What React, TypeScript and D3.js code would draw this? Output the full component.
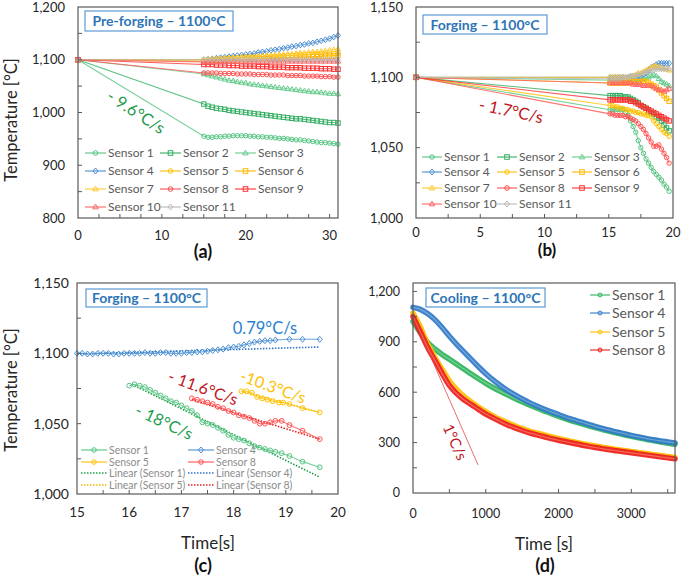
import React from 'react';
import * as d3 from 'd3';

const FONT = 'Lato, "Open Sans", sans-serif';

// ---------- Panel (a): Pre-forging ----------
const A_TIME = [0, 15, 15.5, 16, 16.5, 17, 17.5, 18, 18.5, 19, 19.5, 20, 20.5, 21, 21.5, 22, 22.5, 23, 23.5, 24, 24.5, 25, 25.5, 26, 26.5, 27, 27.5, 28, 28.5, 29, 29.5, 30, 30.5, 31];
const A_S1 = [1100, 955, 953, 953, 954, 954, 955, 955, 956, 956, 956, 956, 955, 955, 954, 954, 953, 953, 952, 951, 951, 950, 949, 948, 948, 947, 946, 945, 944, 943, 943, 942, 941, 940];
const A_S2 = [1100, 1016, 1012, 1010, 1008, 1007, 1006, 1004, 1003, 1002, 1001, 1000, 999, 998, 997, 996, 995, 994, 993, 992, 991, 990, 989, 988, 988, 987, 986, 985, 984, 983, 982, 981, 981, 980];
const A_S3 = [1100, 1073, 1071, 1069, 1067, 1065, 1063, 1061, 1060, 1058, 1057, 1056, 1054, 1053, 1052, 1051, 1050, 1049, 1048, 1047, 1046, 1045, 1044, 1043, 1042, 1041, 1040, 1039, 1039, 1038, 1037, 1036, 1036, 1035];
const A_S4 = [1100, 1100, 1101, 1102, 1103, 1104, 1105, 1106, 1107, 1108, 1109, 1110, 1111, 1112, 1114, 1115, 1116, 1118, 1119, 1120, 1122, 1123, 1125, 1126, 1128, 1129, 1131, 1132, 1134, 1136, 1138, 1140, 1143, 1146];
const A_S5 = [1100, 1100, 1100, 1101, 1101, 1102, 1102, 1103, 1103, 1104, 1104, 1105, 1105, 1105, 1106, 1106, 1106, 1107, 1107, 1107, 1108, 1108, 1108, 1109, 1109, 1109, 1110, 1110, 1110, 1111, 1111, 1111, 1112, 1112];
const A_S6 = [1100, 1097, 1097, 1098, 1098, 1098, 1099, 1099, 1099, 1100, 1100, 1100, 1101, 1101, 1101, 1102, 1102, 1102, 1103, 1103, 1103, 1104, 1104, 1104, 1105, 1105, 1105, 1106, 1106, 1106, 1107, 1107, 1107, 1108];
const A_S7 = [1100, 1100, 1101, 1101, 1102, 1102, 1103, 1103, 1104, 1104, 1105, 1105, 1106, 1106, 1107, 1107, 1108, 1108, 1109, 1110, 1110, 1111, 1111, 1112, 1113, 1113, 1114, 1115, 1115, 1116, 1117, 1118, 1119, 1120];
const A_S8 = [1100, 1075, 1075, 1075, 1075, 1074, 1074, 1074, 1074, 1073, 1073, 1073, 1073, 1072, 1072, 1072, 1072, 1071, 1071, 1071, 1071, 1070, 1070, 1070, 1070, 1069, 1069, 1069, 1069, 1068, 1068, 1068, 1067, 1067];
const A_S9 = [1100, 1091, 1091, 1091, 1090, 1090, 1090, 1089, 1089, 1089, 1088, 1088, 1088, 1088, 1087, 1087, 1087, 1086, 1086, 1086, 1086, 1085, 1085, 1085, 1085, 1084, 1084, 1084, 1084, 1083, 1083, 1083, 1082, 1082];
const A_S10 = [1100, 1096, 1096, 1096, 1096, 1096, 1096, 1096, 1096, 1096, 1096, 1096, 1096, 1096, 1096, 1096, 1096, 1097, 1097, 1097, 1097, 1097, 1097, 1097, 1097, 1097, 1097, 1097, 1097, 1097, 1097, 1097, 1097, 1097];
const A_S11 = [1100, 1100, 1100, 1100, 1100, 1100, 1100, 1100, 1100, 1100, 1100, 1100, 1100, 1100, 1100, 1100, 1100, 1100, 1100, 1100, 1100, 1100, 1100, 1100, 1100, 1100, 1100, 1100, 1100, 1100, 1100, 1100, 1100, 1100];
const A_SERIES = [A_S1, A_S2, A_S3, A_S4, A_S5, A_S6, A_S7, A_S8, A_S9, A_S10, A_S11];
const A_XTICKS = [0, 10, 20, 30];
const A_YTICKS = [800, 900, 1000, 1100, 1200];

// ---------- Panel (b): Forging ----------
const B_TIME = [0, 15.1, 15.3, 15.5, 15.7, 15.9, 16.1, 16.3, 16.5, 16.7, 16.9, 17.1, 17.3, 17.5, 17.7, 17.9, 18.1, 18.3, 18.5, 18.7, 18.9, 19.1, 19.3, 19.5, 19.7];
const B_S1 = [1100, 1077, 1077, 1077, 1077, 1077, 1077, 1075, 1073, 1069, 1065, 1061, 1055, 1050, 1046, 1042, 1039, 1036, 1033, 1031, 1029, 1027, 1024, 1022, 1019];
const B_S2 = [1100, 1087, 1087, 1087, 1087, 1087, 1086, 1086, 1086, 1085, 1084, 1083, 1082, 1080, 1079, 1078, 1076, 1075, 1074, 1072, 1071, 1069, 1066, 1064, 1062];
const B_S3 = [1100, 1098, 1098, 1098, 1098, 1098, 1098, 1098, 1098, 1098, 1098, 1098, 1098, 1099, 1099, 1100, 1100, 1101, 1102, 1101, 1099, 1097, 1096, 1095, 1094];
const B_S4 = [1100, 1100, 1100, 1100, 1100, 1100, 1100, 1100, 1100, 1100, 1100, 1100, 1101, 1101, 1102, 1103, 1105, 1107, 1108, 1109, 1110, 1110, 1110, 1110, 1110];
const B_S5 = [1100, 1080, 1080, 1079, 1079, 1078, 1078, 1077, 1077, 1076, 1076, 1075, 1075, 1074, 1074, 1073, 1073, 1072, 1069, 1067, 1065, 1063, 1061, 1060, 1058];
const B_S6 = [1100, 1096, 1096, 1096, 1096, 1096, 1096, 1096, 1096, 1097, 1097, 1097, 1097, 1097, 1097, 1097, 1096, 1095, 1094, 1093, 1091, 1089, 1087, 1085, 1083];
const B_S7 = [1100, 1100, 1100, 1100, 1100, 1100, 1100, 1100, 1100, 1101, 1101, 1102, 1103, 1103, 1104, 1105, 1106, 1107, 1108, 1108, 1107, 1107, 1106, 1106, 1105];
const B_S8 = [1100, 1074, 1074, 1073, 1073, 1073, 1073, 1072, 1072, 1071, 1070, 1069, 1067, 1065, 1063, 1060, 1057, 1054, 1051, 1051, 1052, 1049, 1046, 1043, 1039];
const B_S9 = [1100, 1084, 1084, 1084, 1084, 1084, 1084, 1084, 1084, 1083, 1083, 1082, 1081, 1080, 1079, 1078, 1077, 1076, 1075, 1074, 1073, 1072, 1071, 1070, 1069];
const B_S10 = [1100, 1096, 1096, 1096, 1096, 1096, 1096, 1096, 1096, 1096, 1095, 1095, 1095, 1095, 1094, 1094, 1094, 1094, 1093, 1092, 1091, 1091, 1090, 1091, 1092];
const B_S11 = [1100, 1099, 1099, 1099, 1099, 1099, 1100, 1100, 1100, 1101, 1101, 1101, 1102, 1102, 1103, 1104, 1104, 1105, 1105, 1106, 1106, 1106, 1106, 1106, 1106];
const B_SERIES = [B_S1, B_S2, B_S3, B_S4, B_S5, B_S6, B_S7, B_S8, B_S9, B_S10, B_S11];
const B_XTICKS = [0, 5, 10, 15, 20];
const B_YTICKS = [1000, 1050, 1100, 1150];

// ---------- Panel (c): Forging zoom ----------
const C_T4 = [15.0, 15.1, 15.2, 15.3, 15.4, 15.5, 15.6, 15.7, 15.8, 15.9, 16.0, 16.1, 16.2, 16.3, 16.4, 16.5, 16.6, 16.7, 16.8, 16.9, 17.0, 17.1, 17.2, 17.3, 17.4, 17.5, 17.6, 17.7, 17.8, 17.9, 18.0, 18.1, 18.2, 18.3, 18.4, 18.5, 18.6, 18.7, 18.8, 19.07, 19.32, 19.65];
const C_S4 = [1100, 1100, 1099.5, 1099.5, 1100, 1100, 1100, 1099.5, 1099.5, 1100, 1100, 1100, 1100, 1100.5, 1100, 1100, 1100.5, 1100.5, 1100, 1100, 1100, 1100.5, 1100.5, 1101, 1101, 1101.5, 1102, 1102.5, 1103, 1104, 1104.5, 1105, 1106, 1107, 1108, 1108.5, 1109, 1109, 1109.5, 1110, 1110, 1110];
const C_T1 = [16.0, 16.1, 16.2, 16.3, 16.4, 16.5, 16.6, 16.7, 16.8, 16.9, 17.0, 17.1, 17.2, 17.3, 17.4, 17.5, 17.6, 17.7, 17.8, 17.9, 18.0, 18.1, 18.2, 18.3, 18.4, 18.5, 18.6, 18.7, 18.8, 18.92, 19.07, 19.32, 19.65];
const C_S1 = [1077, 1078, 1077, 1076, 1074, 1072, 1070, 1068, 1066, 1065, 1063, 1061, 1059, 1056, 1051, 1050, 1049, 1047, 1045, 1042, 1040, 1039, 1038, 1036, 1034, 1033, 1032, 1031, 1030, 1029, 1027, 1023, 1019];
const C_T8 = [17.2, 17.3, 17.4, 17.5, 17.6, 17.7, 17.8, 17.9, 18.0, 18.1, 18.2, 18.3, 18.4, 18.5, 18.6, 18.7, 18.8, 18.92, 19.07, 19.32, 19.65];
const C_S8 = [1068, 1067, 1066, 1065, 1064, 1062, 1061, 1059, 1058, 1056, 1055, 1054, 1052, 1050, 1050, 1051, 1052, 1052, 1049, 1045, 1039];
const C_T5 = [18.15, 18.25, 18.35, 18.45, 18.55, 18.65, 18.75, 18.87, 18.95, 19.07, 19.32, 19.65];
const C_S5 = [1073, 1073, 1072, 1069, 1068, 1067, 1066, 1065, 1065, 1064, 1061, 1058];
// trendline end points (time, temperature)
const C_TREND_S1 = [[16.05, 1078], [19.65, 1012]];
const C_TREND_S4 = [[15.0, 1099.5], [19.65, 1104.5]];
const C_TREND_S5 = [[18.15, 1073], [19.65, 1058]];
const C_TREND_S8 = [[17.2, 1067], [19.65, 1039]];
const C_XTICKS = [15, 16, 17, 18, 19, 20];
const C_YTICKS = [1000, 1050, 1100, 1150];

// ---------- Panel (d): Cooling ----------
const D_TIME = [0, 100, 200, 300, 400, 500, 600, 700, 800, 900, 1000, 1100, 1200, 1300, 1400, 1500, 1600, 1700, 1800, 1900, 2000, 2100, 2200, 2300, 2400, 2500, 2600, 2700, 2800, 2900, 3000, 3100, 3200, 3300, 3400, 3500, 3600];
const D_S1 = [1021, 955, 897, 858, 825, 796, 767, 738, 708, 680, 653, 628, 605, 584, 563, 543, 524, 506, 489, 472, 456, 441, 427, 414, 401, 389, 378, 367, 357, 347, 338, 329, 320, 312, 304, 297, 290];
const D_S4 = [1105, 1093, 1068, 1032, 985, 933, 885, 840, 795, 752, 710, 673, 640, 610, 584, 560, 538, 518, 500, 483, 467, 451, 437, 423, 410, 397, 385, 374, 363, 353, 343, 334, 325, 317, 310, 304, 298];
const D_S5 = [1071, 990, 888, 808, 737, 668, 617, 575, 542, 512, 484, 459, 437, 418, 400, 384, 369, 357, 346, 335, 325, 315, 305, 296, 288, 280, 273, 266, 259, 253, 247, 241, 235, 229, 223, 217, 211];
const D_S8 = [1050, 960, 868, 790, 712, 640, 592, 555, 526, 498, 470, 447, 425, 405, 388, 372, 358, 346, 335, 324, 314, 305, 296, 287, 279, 271, 264, 257, 251, 245, 239, 233, 227, 221, 215, 209, 203];
const D_TANGENT = [[0, 1051], [894, 167]];
const D_XTICKS = [0, 1000, 2000, 3000];
const D_YTICKS = [0, 300, 600, 900, 1200];

const SENSOR_NAMES = ['Sensor 1', 'Sensor 2', 'Sensor 3', 'Sensor 4', 'Sensor 5', 'Sensor 6', 'Sensor 7', 'Sensor 8', 'Sensor 9', 'Sensor 10', 'Sensor 11'];
const SENSOR_COLORS = ['#55c481', '#33ae62', '#66cb8c', '#4a8fd2', '#ffc000', '#ffb800', '#ffc82a', '#ff5050', '#ff3030', '#ff6464', '#b8b8b8'];
const SENSOR_SHAPES = ['circle', 'square', 'triangle', 'diamond', 'circle', 'square', 'triangle', 'circle', 'square', 'triangle', 'diamond'];

// scales
const xA = d3.scaleLinear().domain([0, 31]).range([78, 338]);
const yA = d3.scaleLinear().domain([800, 1200]).range([218, 7]);
const xB = d3.scaleLinear().domain([0, 20]).range([416, 673]);
const yB = d3.scaleLinear().domain([1000, 1150]).range([218, 7]);
const xC = d3.scaleLinear().domain([15, 20]).range([77, 338]);
const yC = d3.scaleLinear().domain([1000, 1150]).range([494, 283]);
const xD = d3.scaleLinear().domain([0, 3600]).range([413, 675]);
const yD = d3.scaleLinear().domain([0, 1250]).range([493, 283]);

const comma = d3.format(',');
const plain = d3.format('d');
const AXIS = '#595959';
const TICKTXT = '#262626';
const TITLE_BLUE = '#2e75b6';

function Marker({ shape, x, y, r, color, sw = 1 }: any) {
  if (shape === 'circle') return <circle cx={x} cy={y} r={r} fill="none" stroke={color} strokeWidth={sw} />;
  if (shape === 'square') return <rect x={x - r} y={y - r} width={2 * r} height={2 * r} fill="none" stroke={color} strokeWidth={sw} />;
  if (shape === 'triangle')
    return <path d={`M${x},${y - r * 1.25}L${x + r * 1.2},${y + r * 0.8}L${x - r * 1.2},${y + r * 0.8}Z`} fill="none" stroke={color} strokeWidth={sw} />;
  return <path d={`M${x},${y - r * 1.3}L${x + r * 1.1},${y}L${x},${y + r * 1.3}L${x - r * 1.1},${y}Z`} fill="none" stroke={color} strokeWidth={sw} />;
}

function Frame({ xs, ys, xTicks, xMinor, yTicks, yMinor, xFmt, yFmt, xDy, yDx, fx, fy }: any) {
  const [xa, xb] = xs.range();
  const [ya, yb] = ys.range();
  return (
    <g>
      <rect x={xa} y={yb} width={xb - xa} height={ya - yb} fill="none" stroke={AXIS} strokeWidth={1.2} />
      {xMinor.map((t: number, i: number) => (
        <line key={'xm' + i} x1={xs(t)} x2={xs(t)} y1={ya} y2={ya - 4} stroke={AXIS} strokeWidth={1} />
      ))}
      {yMinor.map((t: number, i: number) => (
        <line key={'ym' + i} x1={xa} x2={xa + 4} y1={ys(t)} y2={ys(t)} stroke={AXIS} strokeWidth={1} />
      ))}
      {xTicks.map((t: number, i: number) => (
        <text key={'xt' + i} x={xs(t)} y={ya + xDy} textAnchor="middle" fontSize={fx} fill={TICKTXT} fontFamily={FONT}>
          {xFmt(t)}
        </text>
      ))}
      {yTicks.map((t: number, i: number) => (
        <text key={'yt' + i} x={xa - yDx} y={ys(t)} dy="0.35em" textAnchor="end" fontSize={fy} fill={TICKTXT} fontFamily={FONT}>
          {yFmt(t)}
        </text>
      ))}
    </g>
  );
}

function TitleBox({ x, y, w, h, label }: any) {
  return (
    <g>
      <rect x={x} y={y} width={w} height={h} fill="#fff" stroke="#5b9bd5" strokeWidth={1.2} />
      <text x={x + w / 2} y={y + h / 2} dy="0.36em" textAnchor="middle" fontSize={14} fontWeight="bold" fill={TITLE_BLUE} fontFamily={FONT}>
        {label}
      </text>
    </g>
  );
}

function Note({ x, y, angle, text, color, size = 16, weight = 'normal' }: any) {
  return (
    <text transform={`translate(${x},${y}) rotate(${angle})`} textAnchor="middle" dy="0.35em" fontSize={size} fill={color} fontFamily={FONT} fontWeight={weight}>
      {text}
    </text>
  );
}

function SensorSeries({ times, values, xs, ys, color, shape, r, lineOpacity = 0.8 }: any) {
  const pts = times.map((t: number, i: number) => [t, values[i]]);
  const line = d3.line<any>().x((d) => xs(d[0])).y((d) => ys(d[1]));
  return (
    <g>
      <path d={line(pts) || ''} fill="none" stroke={color} strokeWidth={1.1} opacity={lineOpacity} />
      {pts.map((p: any, i: number) => (
        <Marker key={i} shape={shape} x={xs(p[0])} y={ys(p[1])} r={r} color={color} sw={1} />
      ))}
    </g>
  );
}

function LegendEntry({ x, y, len, color, shape, label, size, txtColor, dashed = false, marker = true, r = 2.3 }: any) {
  return (
    <g>
      <line x1={x} x2={x + len} y1={y} y2={y} stroke={color} strokeWidth={dashed ? 1.6 : 1.1} strokeDasharray={dashed ? '1.5,1.5' : undefined} />
      {marker && <Marker shape={shape} x={x + len / 2} y={y} r={r} color={color} sw={1} />}
      <text x={x + len + 2} y={y} dy="0.35em" fontSize={size} fill={txtColor} fontFamily={FONT}>
        {label}
      </text>
    </g>
  );
}

function PanelA() {
  const colX = [85, 160, 235];
  const rowY = [153, 171, 189, 207];
  return (
    <g>
      {A_SERIES.map((vals, i) => (
        <SensorSeries key={i} times={A_TIME} values={vals} xs={xA} ys={yA} color={SENSOR_COLORS[i]} shape={SENSOR_SHAPES[i]} r={2.2} />
      ))}
      <Frame xs={xA} ys={yA} xTicks={A_XTICKS} xMinor={d3.range(2.5, 31, 2.5)} yTicks={A_YTICKS} yMinor={d3.range(850, 1200, 50)}
        xFmt={plain} yFmt={comma} xDy={22} yDx={13} fx={13} fy={13} />
      <TitleBox x={85} y={11} w={148} h={20} label="Pre-forging – 1100°C" />
      <Note x={136} y={112} angle={33} text="- 9.6°C/s" color="#1f9a4b" size={16.5} />
      {SENSOR_NAMES.map((n, i) => (
        <LegendEntry key={i} x={colX[i % 3]} y={rowY[Math.floor(i / 3)]} len={21} color={SENSOR_COLORS[i]} shape={SENSOR_SHAPES[i]} label={n} size={12} txtColor="#595959" />
      ))}
      <text x={203} y={258} textAnchor="middle" fontSize={18} fontWeight="bold" fill="#111" fontFamily={FONT}>(a)</text>
      <text transform="translate(17,120) rotate(-90)" textAnchor="middle" fontSize={16.5} fill="#262626" fontFamily={FONT}>Temperature [°C]</text>
    </g>
  );
}

function PanelB() {
  const colX = [422, 497, 572];
  const rowY = [157, 172, 188, 204];
  return (
    <g>
      {B_SERIES.map((vals, i) => (
        <SensorSeries key={i} times={B_TIME} values={vals} xs={xB} ys={yB} color={SENSOR_COLORS[i]} shape={SENSOR_SHAPES[i]} r={2.2} />
      ))}
      <Frame xs={xB} ys={yB} xTicks={B_XTICKS} xMinor={d3.range(2.5, 20, 2.5)} yTicks={B_YTICKS} yMinor={d3.range(1025, 1150, 25)}
        xFmt={plain} yFmt={comma} xDy={19} yDx={13} fx={13} fy={13} />
      <TitleBox x={423} y={15} w={124} h={19} label="Forging – 1100°C" />
      <Note x={511} y={111} angle={12} text="- 1.7°C/s" color="#c0151b" size={16.5} />
      {SENSOR_NAMES.map((n, i) => (
        <LegendEntry key={i} x={colX[i % 3]} y={rowY[Math.floor(i / 3)]} len={20} color={SENSOR_COLORS[i]} shape={SENSOR_SHAPES[i]} label={n} size={12} txtColor="#595959" />
      ))}
      <text x={547} y={256} textAnchor="middle" fontSize={17} fontWeight="bold" fill="#111" fontFamily={FONT}>(b)</text>
    </g>
  );
}

function Trend({ pts, xs, ys, color }: any) {
  const line = d3.line<any>().x((d) => xs(d[0])).y((d) => ys(d[1]));
  return <path d={line(pts) || ''} fill="none" stroke={color} strokeWidth={1.6} strokeDasharray="1.5,1.5" />;
}

function PanelC() {
  const colX = [81, 188];
  const rowY = [450, 462, 473, 485];
  const g = '#55c481', b = '#4a8fd2', yl = '#ffc000', r = '#ff5050';
  return (
    <g>
      <Trend pts={C_TREND_S4} xs={xC} ys={yC} color="#2e78c7" />
      <Trend pts={C_TREND_S1} xs={xC} ys={yC} color="#22a04e" />
      <Trend pts={C_TREND_S8} xs={xC} ys={yC} color="#e02020" />
      <Trend pts={C_TREND_S5} xs={xC} ys={yC} color="#f5b800" />
      <SensorSeries times={C_T4} values={C_S4} xs={xC} ys={yC} color={b} shape="diamond" r={2.3} />
      <SensorSeries times={C_T1} values={C_S1} xs={xC} ys={yC} color={g} shape="circle" r={2.4} />
      <SensorSeries times={C_T8} values={C_S8} xs={xC} ys={yC} color={r} shape="circle" r={2.4} />
      <SensorSeries times={C_T5} values={C_S5} xs={xC} ys={yC} color={yl} shape="circle" r={2.4} />
      <Frame xs={xC} ys={yC} xTicks={C_XTICKS} xMinor={d3.range(15.5, 20, 0.5)} yTicks={C_YTICKS} yMinor={d3.range(1025, 1150, 25)}
        xFmt={plain} yFmt={comma} xDy={23} yDx={8} fx={13.5} fy={14} />
      <TitleBox x={86} y={289} w={121} h={18} label="Forging – 1100°C" />
      <text x={265} y={334} textAnchor="middle" fontSize={16.5} fill="#2a7fd0" fontFamily={FONT}>0.79°C/s</text>
      <Note x={203} y={388} angle={20} text="- 11.6°C/s" color="#c0151b" size={16} />
      <Note x={273} y={387} angle={20} text="-10.3°C/s" color="#ffc000" size={16} />
      <Note x={164} y={422} angle={25} text="- 18°C/s" color="#1e9e4f" size={16.5} />
      <LegendEntry x={colX[0]} y={rowY[0]} len={26} color={g} shape="circle" label="Sensor 1" size={10.5} txtColor="#8c8c8c" />
      <LegendEntry x={colX[1]} y={rowY[0]} len={26} color={b} shape="diamond" label="Sensor 4" size={10.5} txtColor="#8c8c8c" />
      <LegendEntry x={colX[0]} y={rowY[1]} len={26} color={yl} shape="circle" label="Sensor 5" size={10.5} txtColor="#8c8c8c" />
      <LegendEntry x={colX[1]} y={rowY[1]} len={26} color={r} shape="circle" label="Sensor 8" size={10.5} txtColor="#8c8c8c" />
      <LegendEntry x={colX[0]} y={rowY[2]} len={26} color="#22a04e" dashed marker={false} label="Linear (Sensor 1)" size={10.5} txtColor="#8c8c8c" />
      <LegendEntry x={colX[1]} y={rowY[2]} len={26} color="#2e78c7" dashed marker={false} label="Linear (Sensor 4)" size={10.5} txtColor="#8c8c8c" />
      <LegendEntry x={colX[0]} y={rowY[3]} len={26} color="#f5b800" dashed marker={false} label="Linear (Sensor 5)" size={10.5} txtColor="#8c8c8c" />
      <LegendEntry x={colX[1]} y={rowY[3]} len={26} color="#e02020" dashed marker={false} label="Linear (Sensor 8)" size={10.5} txtColor="#8c8c8c" />
      <text x={208} y={549} textAnchor="middle" fontSize={17} fill="#262626" fontFamily={FONT}>Time[s]</text>
      <text x={203} y={572} textAnchor="middle" fontSize={18} fontWeight="bold" fill="#111" fontFamily={FONT}>(c)</text>
      <text transform="translate(17,390) rotate(-90)" textAnchor="middle" fontSize={16.5} fill="#262626" fontFamily={FONT}>Temperature [°C]</text>
    </g>
  );
}

function Band({ values, color, xs, ys }: any) {
  const pts = D_TIME.map((t, i) => [t, values[i]]);
  const line = d3.line<any>().x((d) => xs(d[0])).y((d) => ys(d[1])).curve(d3.curveMonotoneX);
  const d = line(pts) || '';
  return (
    <g>
      <path d={d} fill="none" stroke={color} strokeWidth={5.5} strokeLinecap="round" opacity={0.92} />
      <path d={d} fill="none" stroke="#fff" strokeWidth={1.2} opacity={0.3} />
    </g>
  );
}

function PanelD() {
  const rows = [295, 313, 332, 350];
  const items = [
    { name: 'Sensor 1', color: '#2db35a', vals: D_S1 },
    { name: 'Sensor 4', color: '#2e78c7', vals: D_S4 },
    { name: 'Sensor 5', color: '#ffc000', vals: D_S5 },
    { name: 'Sensor 8', color: '#ee1c1c', vals: D_S8 },
  ];
  const tl = d3.line<any>().x((d) => xD(d[0])).y((d) => yD(d[1]));
  return (
    <g>
      {items.map((it, i) => (
        <Band key={i} values={it.vals} color={it.color} xs={xD} ys={yD} />
      ))}
      <path d={tl(D_TANGENT) || ''} fill="none" stroke="#e04848" strokeWidth={0.8} />
      <Frame xs={xD} ys={yD} xTicks={D_XTICKS} xMinor={d3.range(500, 3600, 500)} yTicks={D_YTICKS} yMinor={d3.range(150, 1250, 150)}
        xFmt={plain} yFmt={comma} xDy={25} yDx={13} fx={12.5} fy={12.5} />
      <TitleBox x={426} y={288} w={119} h={19} label="Cooling – 1100°C" />
      <Note x={455} y={442} angle={66} text="1°C/s" color="#c0151b" size={15} />
      {items.map((it, i) => (
        <LegendEntry key={i} x={590} y={rows[i]} len={20} color={it.color} shape="circle" label={it.name} size={14} txtColor="#595959" r={2} />
      ))}
      <text x={544} y={550} textAnchor="middle" fontSize={17} fill="#262626" fontFamily={FONT}>Time [s]</text>
      <text x={545} y={572} textAnchor="middle" fontSize={18} fontWeight="bold" fill="#111" fontFamily={FONT}>(d)</text>
    </g>
  );
}

export default function App() {
  return (
    <div style={{ position: 'absolute', left: 0, top: 0, width: 685, height: 577, background: '#fff' }}>
      <svg width={685} height={577} viewBox="0 0 685 577" style={{ display: 'block' }}>
        <rect x={0} y={0} width={685} height={577} fill="#fff" />
        <PanelA />
        <PanelC />
        <PanelB />
        <PanelD />
      </svg>
    </div>
  );
}
